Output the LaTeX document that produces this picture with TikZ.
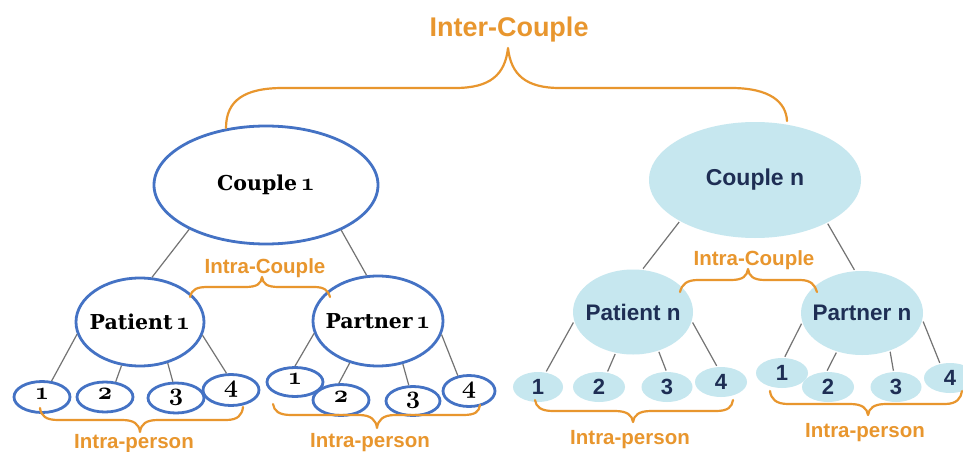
\documentclass[tikz,border=0pt]{standalone}
\usepackage{fontspec}
\usetikzlibrary{shapes.geometric}
\newfontfamily\labelsf{Liberation Sans}
\newfontfamily\nameserif{DejaVu Serif}
% bold old-style figures from the math italic font
\newcommand\osnum[1]{{\fontsize{24.88}{28}\usefont{OML}{cmm}{b}{it}#1}}
% a name set in a zero-width box, so the oval keeps its given size
\newcommand\ovaltext[1]{\makebox[0pt]{#1}}
\definecolor{bracecol}{RGB}{232,150,46}
\definecolor{rimblue}{RGB}{68,114,196}
\definecolor{paleblue}{RGB}{198,231,239}
\definecolor{navy}{RGB}{30,46,84}
\definecolor{linkgray}{RGB}{115,115,115}
\tikzset{
  oval/.style={ellipse, inner sep=0pt, line width=2.8pt},
  whiteoval/.style={oval, draw=rimblue, fill=white},
  blueoval/.style={oval, fill=paleblue},
  bigserif/.style={font=\nameserif\bfseries\fontsize{20.5}{24}\selectfont},
  digserif/.style={font=\fontsize{24.88}{28}\selectfont, text height=0.58em, text depth=0pt},
  bigsans/.style={font=\labelsf\bfseries\fontsize{23}{26}\selectfont, text=navy},
  midsans/.style={font=\labelsf\bfseries\fontsize{22.5}{26}\selectfont, text=navy},
  digsans/.style={font=\labelsf\bfseries\fontsize{22}{26}\selectfont, text=navy},
  bracetext/.style={font=\labelsf\bfseries\fontsize{20.5}{24}\selectfont, text=bracecol, anchor=base, inner sep=0pt},
  brace/.style={draw=bracecol, line width=2.2pt, line cap=round, line join=round},
  link/.style={draw=linkgray, line width=1.2pt}
}
\begin{document}
\begin{tikzpicture}[x=1pt, y=-1pt]
\useasboundingbox (0,0) rectangle (963,452);
\clip (0,0) rectangle (963,452);
\fill[white] (0,0) rectangle (963,452);

% ---- couple 1 ----
\node[whiteoval, minimum width=224pt, minimum height=118pt, bigserif] (C1) at (266,185) {\ovaltext{Couple\,\osnum{1}}};
\node[whiteoval, minimum width=128pt, minimum height=88pt, bigserif] (P1) at (140,322) {\ovaltext{Patient\,\osnum{1}}};
\node[whiteoval, minimum width=130pt, minimum height=90pt, bigserif] (Q1) at (378,321) {\ovaltext{Partner\,\osnum{1}}};

\node[whiteoval, minimum width=56pt, minimum height=31pt, digserif] (L1) at (42,397) {\osnum{1}};
\node[whiteoval, minimum width=56pt, minimum height=30pt, digserif] (L2) at (105,397) {\osnum{2}};
\node[whiteoval, minimum width=56pt, minimum height=30pt, digserif] (L3) at (176,398) {\osnum{3}};
\node[whiteoval, minimum width=56pt, minimum height=31pt, digserif] (L4) at (231,390) {\osnum{4}};
\node[whiteoval, minimum width=56pt, minimum height=29pt, digserif] (R1) at (295,382) {\osnum{1}};
\node[whiteoval, minimum width=56pt, minimum height=31pt, digserif] (R2) at (341,400) {\osnum{2}};
\node[whiteoval, minimum width=54pt, minimum height=29pt, digserif] (R3) at (413,401) {\osnum{3}};
\node[whiteoval, minimum width=52pt, minimum height=31pt, digserif] (R4) at (469,391) {\osnum{4}};

% ---- couple n ----
\node[blueoval, minimum width=212pt, minimum height=116pt, bigsans] (Cn) at (755,180) {\ovaltext{Couple n}};
\node[blueoval, minimum width=120pt, minimum height=85pt, midsans] (Pn) at (633,312) {\ovaltext{Patient n}};
\node[blueoval, minimum width=122pt, minimum height=84pt, midsans] (Qn) at (862,313) {\ovaltext{Partner n}};

\node[blueoval, minimum width=50pt, minimum height=30pt, digsans] (a1) at (538,387) {1};
\node[blueoval, minimum width=52pt, minimum height=30pt, digsans] (a2) at (599,387) {2};
\node[blueoval, minimum width=51pt, minimum height=30pt, digsans] (a3) at (667,387) {3};
\node[blueoval, minimum width=52pt, minimum height=30pt, digsans] (a4) at (721,382) {4};
\node[blueoval, minimum width=52pt, minimum height=30pt, digsans] (b1) at (782,373) {1};
\node[blueoval, minimum width=52pt, minimum height=30pt, digsans] (b2) at (828,387) {2};
\node[blueoval, minimum width=51pt, minimum height=30pt, digsans] (b3) at (896,387) {3};
\node[blueoval, minimum width=52pt, minimum height=30pt, digsans] (b4) at (950,378) {4};

% ---- tree links ----
\draw[link] (C1.210) -- (P1.75);
\draw[link] (C1.329) -- (Q1.104);
\draw[link] (P1.191) -- (L1.59);
\draw[link] (P1.247) -- (L2.55);
\draw[link] (P1.304) -- (L3.101);
\draw[link] (P1.348) -- (L4.105);
\draw[link] (Q1.191) -- (R1.90);
\draw[link] (Q1.236) -- (R2.97);
\draw[link] (Q1.300) -- (R3.105);
\draw[link] (Q1.348) -- (R4.126);

\draw[link] (Cn.209) -- (Pn.77);
\draw[link] (Cn.329) -- (Qn.100);
\draw[link] (Pn.190) -- (a1.62);
\draw[link] (Pn.247) -- (a2.61);
\draw[link] (Pn.303) -- (a3.93);
\draw[link] (Pn.350) -- (a4.105);
\draw[link] (Qn.190) -- (b1.80);
\draw[link] (Qn.237) -- (b2.93);
\draw[link] (Qn.306) -- (b3.99);
\draw[link] (Qn.352) -- (b4.124);

% ---- braces ----
\draw[brace] (226,128) .. controls (226,100) and (245,88) .. (283,88) -- (455,88)
  .. controls (490,88) and (505,75) .. (508,48) .. controls (511,75) and (526,88) .. (560,88)
  -- (731,88) .. controls (770,88) and (786,102) .. (787,121);
\node[bracetext, font=\labelsf\bfseries\fontsize{27}{30}\selectfont] (inter) at (509,37) {Inter-Couple};

\draw[brace] (190,297) .. controls (192,289) and (197,287) .. (208,287) -- (245,287)
  .. controls (257,287) and (261,284) .. (262,277) .. controls (263,284) and (267,287) .. (279,287)
  -- (314,287) .. controls (324,287) and (328,290) .. (330,297);
\node[bracetext] (ic1) at (265,273) {Intra-Couple};

\draw[brace] (680,292) .. controls (682,284) and (687,280) .. (698,280) -- (731,280)
  .. controls (743,280) and (747,276) .. (748,269) .. controls (749,276) and (753,280) .. (765,280)
  -- (800,280) .. controls (811,280) and (815,285) .. (817,292);
\node[bracetext] (icn) at (754,265) {Intra-Couple};

\draw[brace] (40,408) .. controls (41,416) and (46,420) .. (58,420) -- (122,420)
  .. controls (134,420) and (139,424) .. (140,432) .. controls (141,424) and (146,420) .. (158,420)
  -- (226,420) .. controls (238,420) and (242,415) .. (243,407);
\node[bracetext] (ip1) at (134,448) {Intra-person};

\draw[brace] (273,404) .. controls (274,411) and (279,415) .. (291,415) -- (359,415)
  .. controls (371,415) and (376,420) .. (377,428) .. controls (378,420) and (383,415) .. (395,415)
  -- (463,415) .. controls (475,415) and (479,412) .. (480,405);
\node[bracetext] (ip2) at (370,447) {Intra-person};

\draw[brace] (535,400) .. controls (536,407) and (541,411) .. (553,411) -- (615,411)
  .. controls (627,411) and (632,415) .. (633,422) .. controls (634,415) and (639,411) .. (651,411)
  -- (716,411) .. controls (728,411) and (732,407) .. (733,400);
\node[bracetext] (ip3) at (630,444) {Intra-person};

\draw[brace] (770,391) .. controls (771,399) and (776,404) .. (788,404) -- (850,404)
  .. controls (862,404) and (867,408) .. (868,415) .. controls (869,408) and (874,404) .. (886,404)
  -- (945,404) .. controls (957,404) and (961,398) .. (962,391);
\node[bracetext] (ip4) at (865,437) {Intra-person};
\end{tikzpicture}
\end{document}
